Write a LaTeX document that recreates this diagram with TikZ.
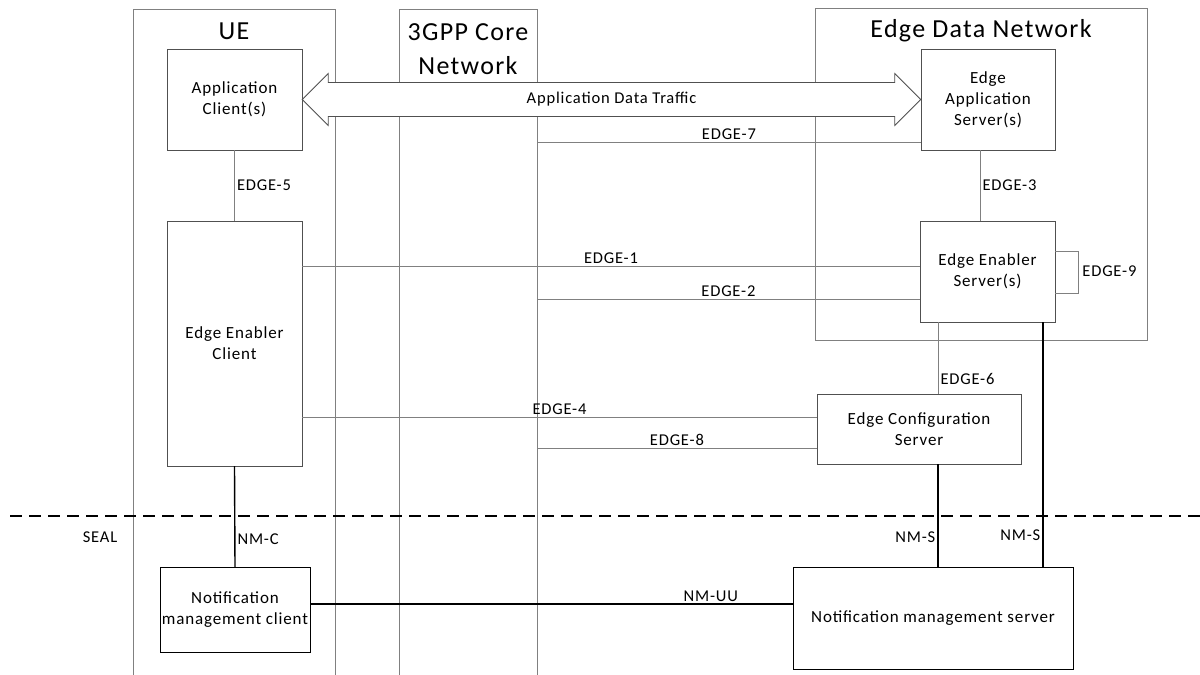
\documentclass[tikz,border=0pt]{standalone}
\usepackage{fontspec}
\setmainfont{Carlito}[LetterSpace=5]
\usetikzlibrary{calc}

\definecolor{linegray}{RGB}{128,128,128}
\definecolor{boxgray}{RGB}{80,80,80}

\begin{document}
\begin{tikzpicture}[
    x=1pt, y=-1pt,
    box/.style={draw=boxgray, fill=white, align=center, inner sep=2pt,
        font=\fontsize{17}{21}\selectfont},
    nmbox/.style={box, draw=black},
    link/.style={draw=linegray, line width=1pt},
    nmlink/.style={draw=black, line width=1.4pt},
    lbl/.style={font=\fontsize{16.5}{20}\selectfont, inner sep=2pt},
    title/.style={font=\fontsize{26}{34}\selectfont, align=center},
    traffic/.style={draw=boxgray, fill=white, line width=0.8pt}
]
    \useasboundingbox (0,0) rectangle (1200,675);

    % domains
    \draw[link] (133,675) -- (133,9) -- (335,9) -- (335,675);
    \draw[link] (399,675) -- (399,9) -- (537,9) -- (537,675);
    \draw[link] (815,8) rectangle (1147,340);
    \coordinate (coreR) at (537,0);
    \node[title] (ue) at (234,31) {UE};
    \node[title] (core) at (468,49) {3GPP Core\\Network};
    \node[title] (edn) at (981,31) {Edge Data Network};

    % functional entities
    \node[box, minimum width=135, minimum height=101] (ac) at (234.5,99.5) {Application\\Client(s)};
    \node[box, minimum width=134, minimum height=101] (eas) at (988,99.5) {Edge\\Application\\Server(s)};
    \node[box, minimum width=135, minimum height=245] (eec) at (234.5,343.5) {Edge Enabler\\Client};
    \node[box, minimum width=135, minimum height=101] (ees) at (987.5,271.5) {Edge Enabler\\Server(s)};
    \node[box, minimum width=204, minimum height=70] (ecs) at (919,429) {Edge Configuration\\Server};
    \node[nmbox, minimum width=150, minimum height=85] (nmc) at (235,609.5) {Notification\\management client};
    \node[nmbox, minimum width=280, minimum height=102] (nms) at (933,618) {Notification management server};

    % application data traffic
    \draw[traffic] (ac.east) -- ++(26,-26) -- ++(0,9)
        -- ($(eas.west)+(-26,-17)$) -- ++(0,-9) -- (eas.west)
        -- ++(-26,26) -- ++(0,-9) -- ($(ac.east)+(26,17)$) -- ++(0,9) -- cycle;
    \node[lbl] (adt) at ($(ac.east)!0.5!(eas.west)$) {Application Data Traffic};

    % reference points
    \draw[link] (ac.south) -- (eec.north) node[lbl, midway, right] {EDGE-5};
    \draw[link] ([xshift=-8pt]eas.south) coordinate (e3) -- (e3 |- ees.north)
        node[lbl, midway, right] {EDGE-3};
    \draw[link] ([yshift=8pt]eas.south west) coordinate (e7) -- (e7 -| coreR)
        node[lbl, midway, above] {EDGE-7};
    \draw[link] ([yshift=5.5pt]ees.west) coordinate (e1) -- (e1 -| eec.east)
        node[lbl, midway, above] {EDGE-1};
    \draw[link] ([yshift=-27.5pt]ees.west) coordinate (e2) -- (e2 -| coreR)
        node[lbl, midway, above] {EDGE-2};
    \draw[link] ([yshift=20.5pt]ees.east) -- ++(23,0) -- ++(0,42)
        -- ([yshift=-21.5pt]ees.east);
    \node[lbl, anchor=west] (e9) at ([xshift=25pt]ees.east) {EDGE-9};
    \draw[link] ([xshift=-49.5pt]ees.south) coordinate (e6) -- (e6 |- ecs.north)
        node[lbl, pos=0.8, right] {EDGE-6};
    \draw[link] ([yshift=12pt]ecs.west) coordinate (e4) -- (e4 -| eec.east)
        node[lbl, midway, above] {EDGE-4};
    \draw[link] ([yshift=-19pt]ecs.west) coordinate (e8) -- (e8 -| coreR)
        node[lbl, midway, above] {EDGE-8};

    % SEAL layer
    \draw[black, line width=1.2pt, dash pattern=on 12pt off 7pt] (10,516) -- (1200,516);
    \node[lbl] (seal) at (100,537) {SEAL};
    \draw[nmlink] (eec.south) -- (nmc.north) node[lbl, pos=0.73, right] {NM-C};
    \draw[nmlink] ([yshift=14pt]nms.west) coordinate (uu) -- (uu -| nmc.east)
        node[lbl, pos=0.17, above] {NM-UU};
    \draw[nmlink] ([xshift=19pt]ecs.south) coordinate (s1) -- (s1 |- nms.north)
        node[lbl, pos=0.71, left] {NM-S};
    \draw[nmlink] ([xshift=55.5pt]ees.south) coordinate (s2) -- (s2 |- nms.north)
        node[lbl, pos=0.87, left] {NM-S};
\end{tikzpicture}
\end{document}
